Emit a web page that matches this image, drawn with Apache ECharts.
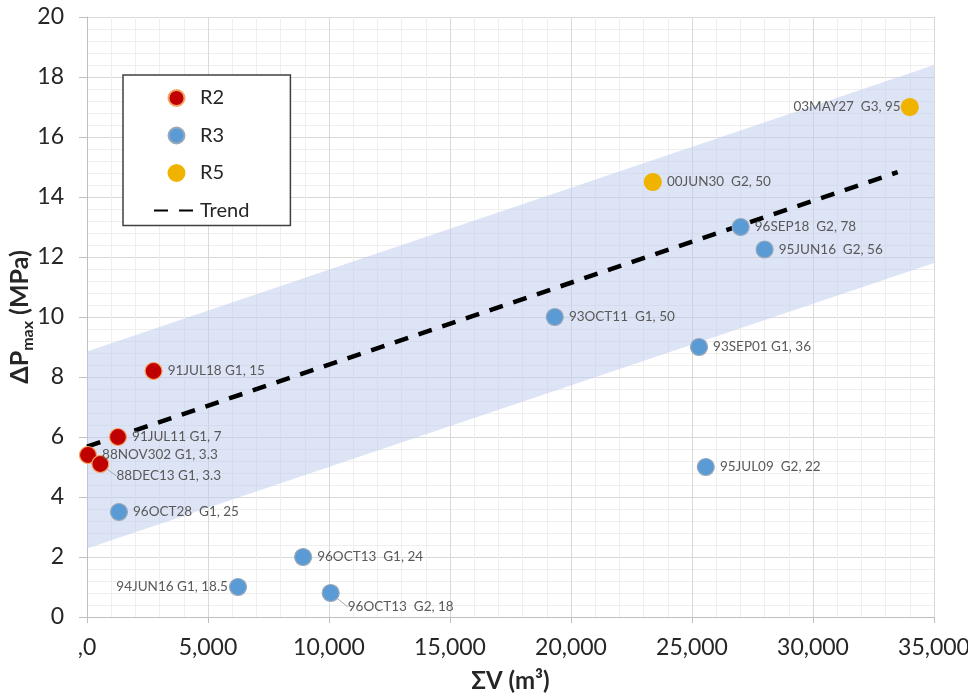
<!DOCTYPE html>
<html>
<head>
<meta charset="utf-8">
<script src="https://cdn.jsdelivr.net/npm/echarts@6/dist/echarts.min.js"></script>
<style>
html,body{margin:0;padding:0;background:#fff;}
#c{width:968px;height:699px;}
</style>
</head>
<body>
<div id="c"></div>
<script>
// ---- data ----
const r2Names = ['88NOV302 G1, 3.3', '88DEC13 G1, 3.3', '91JUL11 G1, 7', '91JUL18 G1, 15'];
const r2X = [40, 550, 1280, 2750];
const r2Y = [5.4, 5.1, 6.0, 8.2];

const r3Names = ['96OCT28  G1, 25', '94JUN16 G1, 18.5', '96OCT13  G1, 24', '96OCT13  G2, 18',
  '93OCT11  G1, 50', '93SEP01 G1, 36', '95JUL09  G2, 22', '96SEP18  G2, 78', '95JUN16  G2, 56'];
const r3X = [1320, 6240, 8930, 10070, 19330, 25290, 25570, 27010, 28000];
const r3Y = [3.5, 1.0, 2.0, 0.8, 10.0, 9.0, 5.0, 13.0, 12.25];

const r5Names = ['00JUN30  G2, 50', '03MAY27  G3, 95'];
const r5X = [23380, 34000];
const r5Y = [14.5, 17.0];

const trendX = [0, 33500];
const trendY = [5.68, 14.83];

const bandX = [0, 35000];
const bandUpper = [8.85, 18.4];
const bandLower = [2.28, 11.8];

const xTicks = [0, 5000, 10000, 15000, 20000, 25000, 30000, 35000];
const xTickLabels = [',0', '5,000', '10,000', '15,000', '20,000', '25,000', '30,000', '35,000'];

// ---- label placement (style only) ----
const labelPlace = {
  '94JUN16 G1, 18.5': {position: 'left', distance: 1, offset: [0, -14]},
  '03MAY27  G3, 95': {position: 'left', distance: 0, offset: [8, 13]},
  '88DEC13 G1, 3.3': {dx: 2, dy: 12},
  '96OCT13  G2, 18': {dx: 3, dy: 14}
};

const FONT = 'Lato';
const labelColor = '#595959';

function pts(xs, ys, names) {
  return xs.map((x, i) => {
    const item = {value: [x, ys[i]], name: names[i]};
    const p = labelPlace[names[i]];
    if (p && p.position) {
      item.label = {position: p.position, distance: p.distance, offset: p.offset};
    }
    if (p && p.dx !== undefined) {
      item.labelLine = {show: true};
    }
    return item;
  });
}

function scatterSeries(name, xs, ys, names, color, border) {
  return {
    name: name,
    type: 'scatter',
    data: pts(xs, ys, names),
    symbolSize: 17,
    itemStyle: {color: color, borderColor: border, borderWidth: 1.2, opacity: 1},
    z: 5,
    label: {
      show: true,
      position: 'right',
      distance: 5,
      formatter: p => p.name,
      color: labelColor,
      fontFamily: FONT,
      fontSize: 13.5
    },
    labelLine: {show: false, lineStyle: {color: '#a6a6a6', width: 1}},
    labelLayout: function (params) {
      const nm = names[params.dataIndex];
      const p = labelPlace[nm];
      if (p && p.dx !== undefined) return {dx: p.dx, dy: p.dy};
      return {};
    }
  };
}

const chart = echarts.init(document.getElementById('c'), null, {renderer: 'canvas'});

const option = {
  backgroundColor: '#ffffff',
  animation: false,
  textStyle: {fontFamily: FONT},
  grid: {left: 87, right: 34, top: 17, bottom: 82, containLabel: false, outerBoundsMode: 'none'},
  legend: {
    orient: 'vertical',
    left: 123,
    top: 75,
    data: [
      {name: 'R2', icon: 'circle'},
      {name: 'R3', icon: 'circle'},
      {name: 'R5', icon: 'circle'},
      {name: 'Trend', itemStyle: {opacity: 0}}
    ],
    itemWidth: 45,
    itemHeight: 16,
    itemGap: 17.5,
    padding: [13, 41, 5, 30],
    borderColor: '#404040',
    borderWidth: 1.5,
    borderRadius: 0,
    backgroundColor: '#ffffff',
    textStyle: {fontFamily: FONT, fontSize: 20, color: '#262626', padding: [0, 0, 0, -4]}
  },
  xAxis: {
    type: 'value',
    min: 0,
    max: 35000,
    interval: 5000,
    name: 'ΣV (m³)',
    nameLocation: 'middle',
    nameGap: 52,
    nameMoveOverlap: false,
    nameTextStyle: {fontFamily: FONT, fontSize: 24, fontWeight: 'bold', color: '#262626'},
    axisLine: {show: true, lineStyle: {color: '#bfbfbf', width: 1}},
    axisTick: {show: true, length: 6, lineStyle: {color: '#bfbfbf'}},
    axisLabel: {
      fontFamily: FONT, fontSize: 23, color: '#262626', margin: 19,
      formatter: v => { const i = xTicks.indexOf(v); return i >= 0 ? xTickLabels[i] : ''; }
    },
    splitLine: {show: true, lineStyle: {color: '#d9d9d9', width: 1}},
    minorTick: {show: false, splitNumber: 5},
    minorSplitLine: {show: true, lineStyle: {color: '#efefef', width: 1}}
  },
  yAxis: {
    type: 'value',
    min: 0,
    max: 20,
    interval: 2,
    name: '{a|ΔP}{s|max}{a| (MPa)}',
    nameLocation: 'middle',
    nameGap: 51,
    nameMoveOverlap: false,
    nameTextStyle: {
      color: '#262626',
      rich: {
        a: {fontFamily: FONT, fontSize: 25, fontWeight: 'bold', color: '#262626', lineHeight: 32, verticalAlign: 'middle'},
        s: {fontFamily: FONT, fontSize: 16, fontWeight: 'bold', color: '#262626', lineHeight: 16, verticalAlign: 'bottom'}
      }
    },
    axisLine: {show: true, lineStyle: {color: '#bfbfbf', width: 1}},
    axisTick: {show: true, length: 8, lineStyle: {color: '#bfbfbf'}},
    axisLabel: {fontFamily: FONT, fontSize: 23, color: '#262626', margin: 23},
    splitLine: {show: true, lineStyle: {color: '#d9d9d9', width: 1}},
    minorTick: {show: false, splitNumber: 5},
    minorSplitLine: {show: true, lineStyle: {color: '#efefef', width: 1}}
  },
  series: [
    {
      name: 'band',
      type: 'custom',
      silent: true,
      z: 1,
      clip: true,
      data: [0],
      renderItem: function (params, api) {
        const points = [];
        for (let i = 0; i < bandX.length; i++) points.push(api.coord([bandX[i], bandUpper[i]]));
        for (let i = bandX.length - 1; i >= 0; i--) points.push(api.coord([bandX[i], bandLower[i]]));
        return {
          type: 'polygon',
          shape: {points: points},
          style: {fill: 'rgba(190,203,236,0.52)', stroke: 'none'}
        };
      }
    },
    {
      name: 'Trend',
      type: 'line',
      data: trendX.map((x, i) => [x, trendY[i]]),
      showSymbol: false,
      symbol: 'none',
      z: 3,
      lineStyle: {color: '#000000', width: 4.5, type: [14, 11], cap: 'butt'},
      itemStyle: {color: '#000000'}
    },
    scatterSeries('R2', r2X, r2Y, r2Names, '#c00000', '#f4a460'),
    scatterSeries('R3', r3X, r3Y, r3Names, '#5b9bd5', '#9aa8b8'),
    scatterSeries('R5', r5X, r5Y, r5Names, '#f0b400', '#f0b400')
  ]
};
chart.setOption(option);
</script>
</body>
</html>
